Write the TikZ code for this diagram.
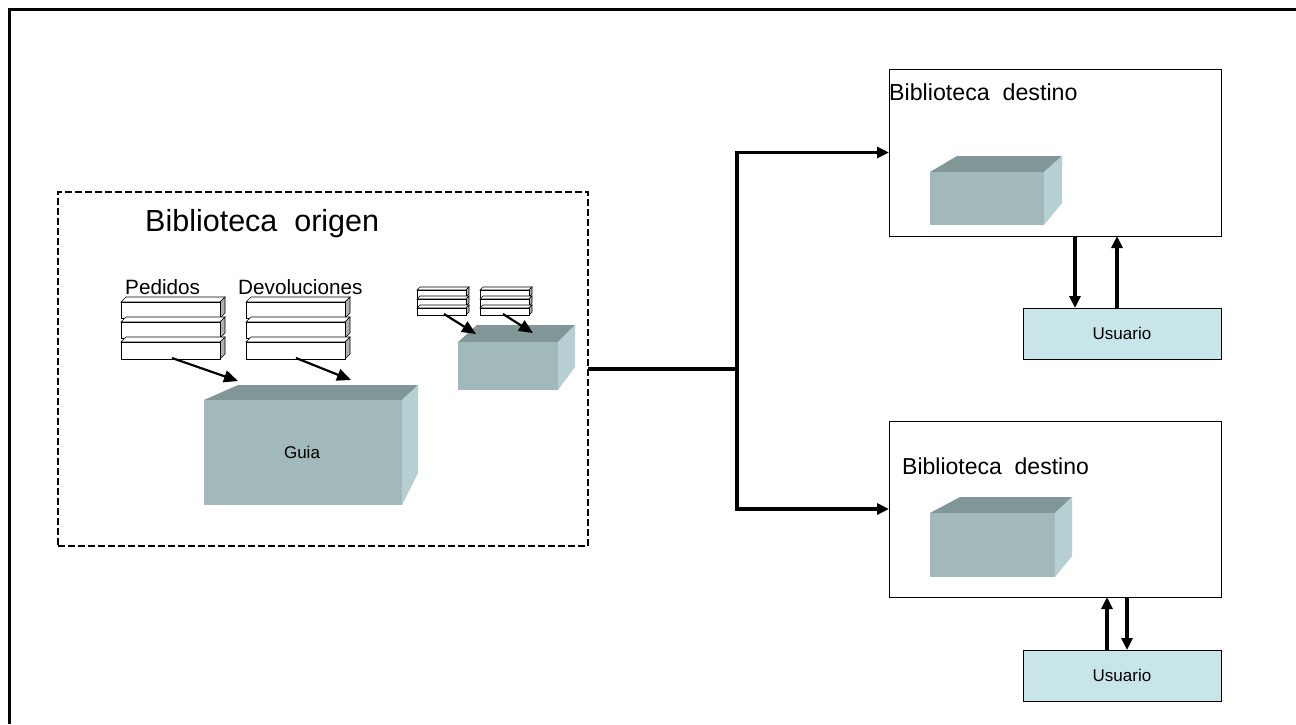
\documentclass[tikz,border=0pt]{standalone}
\usepackage{fontspec}
\setmainfont{Liberation Sans}
\usetikzlibrary{arrows.meta,calc}
\definecolor{cfront}{HTML}{A1B9BA}
\definecolor{ctop}{HTML}{819697}
\definecolor{cside}{HTML}{B5CFD2}
\definecolor{cuser}{HTML}{C8E5E9}
\definecolor{cslab}{HTML}{B0B0B0}
% front top-left x,y ; front bottom-right x,y ; back-left x ; back-right x ; back-top y ; right face bottom y
\newcommand{\mycube}[8]{%
  \fill[ctop] (#1,#2) -- (#5,#7) -- (#6,#7) -- (#3,#2) -- cycle;
  \fill[cside] (#3,#2) -- (#6,#7) -- (#6,#8) -- (#3,#4) -- cycle;
  \fill[cfront] (#1,#2) rectangle (#3,#4);
}
% slab: x1 y1 x2 y2 depth
\newcommand{\myslab}[5]{%
  \filldraw[fill=white,draw=black,line width=0.6pt] (#1,#2) -- (#1+#5,#2-#5) -- (#3+#5,#2-#5) -- (#3,#2) -- cycle;
  \filldraw[fill=cslab,draw=black,line width=0.6pt] (#3,#2) -- (#3+#5,#2-#5) -- (#3+#5,#4-#5) -- (#3,#4) -- cycle;
  \filldraw[fill=white,draw=black,line width=0.8pt] (#1,#2) rectangle (#3,#4);
}
\tikzset{
  boxw/.style={draw=black,line width=1pt,fill=white,inner sep=0pt,outer sep=0pt,anchor=north west},
  userbox/.style={draw=black,line width=1pt,fill=cuser,inner sep=0pt,outer sep=0pt,anchor=north west},
  bigarr/.style={line width=3.2pt,-{Triangle[length=12pt,width=11pt]}},
  link/.style={line width=3.2pt},
  smallarr/.style={line width=2.2pt,-{Triangle[length=14pt,width=12pt]}},
  lbl/.style={inner sep=0pt,anchor=base west},
}
\begin{document}
\begin{tikzpicture}[x=1pt,y=-1pt]
\useasboundingbox (0,0) rectangle (1296,724);
% outer frame
\draw[line width=3pt] (9,724) -- (9,9) -- (1296,9);

% origin dashed box
\node[draw=black,line width=2.8pt,dash pattern=on 7pt off 3pt,inner sep=0pt,outer sep=0pt,anchor=north west,minimum width=530pt,minimum height=354pt] (orig) at (58,192) {};
\node[lbl,font=\fontsize{30.5}{34}\selectfont] (torig) at (145,231) {Biblioteca\ \ origen};
\node[lbl,font=\fontsize{20.7}{24}\selectfont] (tped) at (125,294) {Pedidos};
\node[lbl,font=\fontsize{20.7}{24}\selectfont] (tdev) at (238,294) {Devoluciones};

% slabs Pedidos
\myslab{121}{302}{220}{318}{5}
\myslab{121}{322}{220}{338}{5}
\myslab{121}{342}{220}{359}{5}
% slabs Devoluciones
\myslab{246}{302}{345}{318}{5}
\myslab{246}{322}{345}{338}{5}
\myslab{246}{342}{345}{359}{5}
% small stacks
\myslab{417}{290}{466}{297}{3}
\myslab{417}{299}{466}{306}{3}
\myslab{417}{308}{466}{315}{3}
\myslab{480}{290}{529}{297}{3}
\myslab{480}{299}{529}{306}{3}
\myslab{480}{308}{529}{315}{3}

% cubes
\mycube{204}{400}{402}{505}{238}{418}{385}{473}
\node[inner sep=0pt,font=\fontsize{17}{20}\selectfont] (guia) at (302,452) {Guia};
\mycube{458}{342}{558}{390}{477}{575}{325}{367}

% arrows from stacks to cubes
\coordinate (pa1) at (172,358); \coordinate (pa2) at (238,381);
\coordinate (da1) at (296,358); \coordinate (da2) at (351,380);
\coordinate (sa1) at (444,314); \coordinate (sa2) at (476,334);
\coordinate (sb1) at (503,314); \coordinate (sb2) at (533,333);
\draw[smallarr] (pa1) -- (pa2);
\draw[smallarr] (da1) -- (da2);
\draw[smallarr] (sa1) -- (sa2);
\draw[smallarr] (sb1) -- (sb2);

% destination boxes
\node[boxw,minimum width=332pt,minimum height=167pt] (d1) at (889,69) {};
\node[boxw,minimum width=332pt,minimum height=176pt] (d2) at (889,421) {};
\node[lbl,font=\fontsize{23.2}{27}\selectfont] (td1) at (889,100) {Biblioteca\ \ destino};
\node[lbl,font=\fontsize{23}{27}\selectfont] (td2) at (902,474) {Biblioteca\ \ destino};
\mycube{930}{172}{1044}{225}{957}{1062}{156}{203}
\mycube{930}{513}{1055}{577}{960}{1072}{497}{556}

% users
\node[userbox,minimum width=198pt,minimum height=51pt] (u1) at (1023,308) {};
\node[inner sep=0pt,font=\fontsize{17}{20}\selectfont] (tu1) at (u1.center) {Usuario};
\node[userbox,minimum width=198pt,minimum height=51pt] (u2) at (1023,650) {};
\node[inner sep=0pt,font=\fontsize{17}{20}\selectfont] (tu2) at (u2.center) {Usuario};

% main connectors
\coordinate (j) at (737,369);
\draw[link] (orig.east) -- (j);
\draw[bigarr] (j) |- (d1.west);
\draw[bigarr] (j) |- (d2.west);

% user arrows
\coordinate (xa) at (1075,0); \coordinate (xb) at (1117,0);
\coordinate (xc) at (1107,0); \coordinate (xd) at (1127,0);
\draw[bigarr] (d1.south -| xa) -- (u1.north -| xa);
\draw[bigarr] (u1.north -| xb) -- (d1.south -| xb);
\draw[bigarr] (u2.north -| xc) -- (d2.south -| xc);
\draw[bigarr] (d2.south -| xd) -- (u2.north -| xd);
\end{tikzpicture}
\end{document}
